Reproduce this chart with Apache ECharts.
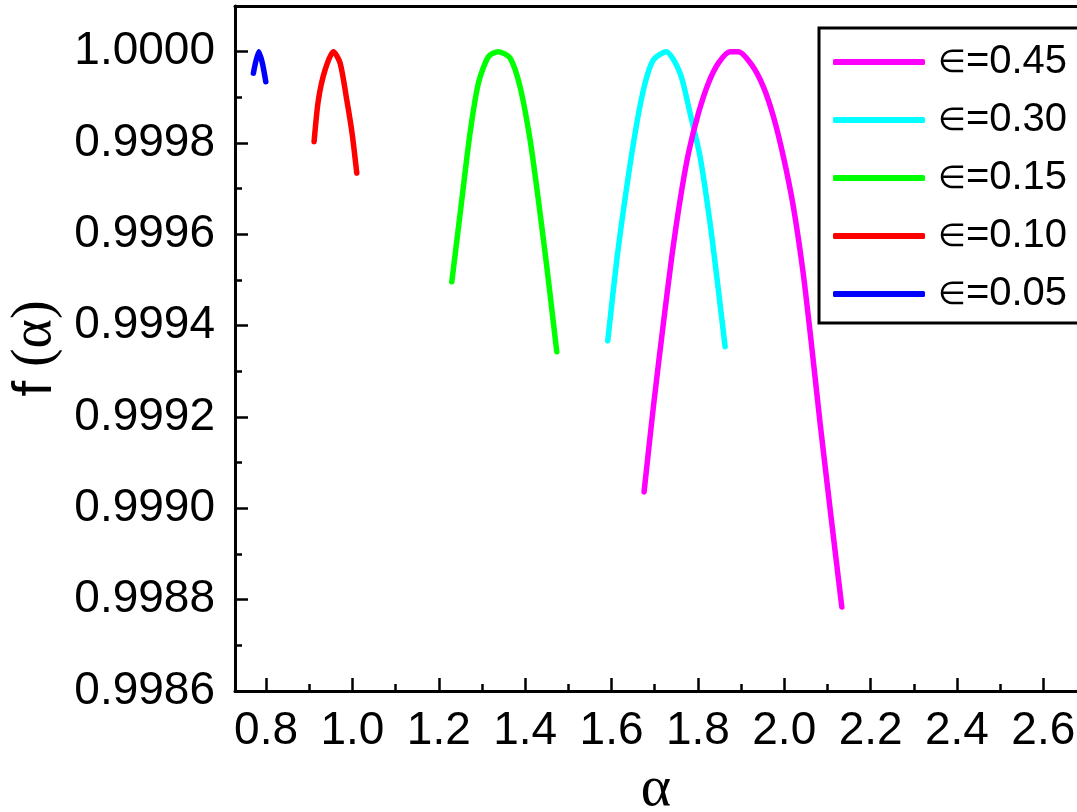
<!DOCTYPE html>
<html>
<head>
<meta charset="utf-8">
<script src="https://cdn.jsdelivr.net/npm/echarts@6/dist/echarts.min.js"></script>
<style>
html,body{margin:0;padding:0;background:#fff;}
#chart{width:1077px;height:812px;}
</style>
</head>
<body>
<div id="chart"></div>
<script>
// ---- data ----
const seriesNames = ['∈=0.45', '∈=0.30', '∈=0.15', '∈=0.10', '∈=0.05'];
const seriesColors = ['#FF00FF', '#00FFFF', '#00FF00', '#FF0000', '#0000FF'];

const alpha045 = [1.6754, 1.6969, 1.7201, 1.7396, 1.7588, 1.7780, 1.8012, 1.8243, 1.8475, 1.8746, 1.8938, 1.9248, 1.9517, 1.9749, 1.9980, 2.0212, 2.0436, 2.0620, 2.0830, 2.1073, 2.1333];
const f045 = [0.999036, 0.999222, 0.999405, 0.999551, 0.999675, 0.999777, 0.999865, 0.999931, 0.999975, 1.0, 1.0, 0.999971, 0.999923, 0.999858, 0.999770, 0.999660, 0.999517, 0.999368, 0.999187, 0.998990, 0.998784];

const alpha030 = [1.5913, 1.6122, 1.6353, 1.6585, 1.6777, 1.6969, 1.7264, 1.7588, 1.7820, 1.8051, 1.8283, 1.8475, 1.8630];
const f030 = [0.999367, 0.999544, 0.999704, 0.999843, 0.999931, 0.999982, 1.0, 0.999953, 0.999865, 0.999770, 0.999624, 0.999478, 0.999354];

const alpha015 = [1.2301, 1.2532, 1.2724, 1.2917, 1.3148, 1.3380, 1.3651, 1.3882, 1.4114, 1.4306, 1.4501, 1.4732];
const f015 = [0.999496, 0.999675, 0.999822, 0.999931, 0.999989, 1.0, 0.999986, 0.999923, 0.999807, 0.999675, 0.999529, 0.999343];

const alpha010 = [0.9112, 0.9211, 0.9366, 0.9559, 0.9714, 0.9869, 0.9992, 1.0100];
const f010 = [0.999803, 0.999894, 0.999960, 1.0, 0.999975, 0.999894, 0.999821, 0.999734];

const alpha005 = [0.7706, 0.7831, 0.7914, 0.7993];
const f005 = [0.999953, 1.0, 0.999975, 0.999934];

const xMajorTicks = [0.8, 1.0, 1.2, 1.4, 1.6, 1.8, 2.0, 2.2, 2.4, 2.6];
const xMinorTicks = [0.9, 1.1, 1.3, 1.5, 1.7, 1.9, 2.1, 2.3, 2.5];
const yMajorTicks = [0.9986, 0.9988, 0.9990, 0.9992, 0.9994, 0.9996, 0.9998, 1.0000];
const yMinorTicks = [0.9987, 0.9989, 0.9991, 0.9993, 0.9995, 0.9997, 0.9999];

// ---- build ----
const alphas = [alpha045, alpha030, alpha015, alpha010, alpha005];
const fs = [f045, f030, f015, f010, f005];
const pair = (xs, ys) => xs.map((x, i) => [x, ys[i]]);

const X_MIN = 0.728, X_MAX = 2.678, Y_MIN = 0.9986, Y_MAX = 1.0001;
const sans = 'Liberation Sans, Arial, sans-serif';
const serif = 'Liberation Serif, Times New Roman, serif';

const chart = echarts.init(document.getElementById('chart'), null, {renderer: 'canvas'});

const option = {
  animation: false,
  backgroundColor: '#fff',
  grid: { left: 235, right: 0, top: 6, bottom: 121, containLabel: false, outerBoundsMode: 'none' },
  xAxis: [
    {
      type: 'value', min: X_MIN, max: X_MAX, position: 'bottom',
      name: 'α', nameLocation: 'middle', nameGap: 70,
      nameTextStyle: { fontFamily: serif, fontSize: 58, color: '#000' },
      axisLine: { show: true, onZero: false, lineStyle: { color: '#000', width: 3 } },
      axisTick: { show: true, inside: true, length: 13, lineStyle: { color: '#000', width: 2.5 }, customValues: xMajorTicks },
      axisLabel: { show: true, margin: 17, fontFamily: sans, fontSize: 46, color: '#000',
        customValues: xMajorTicks, formatter: v => v.toFixed(1) },
      splitLine: { show: false }
    },
    {
      type: 'value', min: X_MIN, max: X_MAX, position: 'bottom',
      axisLine: { show: false, onZero: false },
      axisTick: { show: true, inside: true, length: 7, lineStyle: { color: '#000', width: 2.5 }, customValues: xMinorTicks },
      axisLabel: { show: false },
      splitLine: { show: false }
    },
    {
      type: 'value', min: X_MIN, max: X_MAX, position: 'top',
      axisLine: { show: true, onZero: false, lineStyle: { color: '#000', width: 3 } },
      axisTick: { show: false }, axisLabel: { show: false }, splitLine: { show: false }
    }
  ],
  yAxis: [
    {
      type: 'value', min: Y_MIN, max: Y_MAX, position: 'left',
      name: '{f|f}{p|(α)}', nameLocation: 'middle', nameGap: 162, nameRotate: 90,
      nameTextStyle: {
        color: '#000',
        rich: {
          f: { fontFamily: sans, fontSize: 56, color: '#000' },
          p: { fontFamily: serif, fontSize: 56, color: '#000', padding: [0, 0, 0, 14] }
        }
      },
      axisLine: { show: true, onZero: false, lineStyle: { color: '#000', width: 3 } },
      axisTick: { show: true, inside: true, length: 13, lineStyle: { color: '#000', width: 2.5 }, customValues: yMajorTicks },
      axisLabel: { show: true, margin: 20, fontFamily: sans, fontSize: 46, color: '#000',
        customValues: yMajorTicks, formatter: v => v.toFixed(4) },
      splitLine: { show: false }
    },
    {
      type: 'value', min: Y_MIN, max: Y_MAX, position: 'left',
      axisLine: { show: false, onZero: false },
      axisTick: { show: true, inside: true, length: 7, lineStyle: { color: '#000', width: 2.5 }, customValues: yMinorTicks },
      axisLabel: { show: false },
      splitLine: { show: false }
    }
  ],
  legend: {
    orient: 'vertical', left: 819, top: 28,
    itemWidth: 92, itemHeight: 6, itemGap: 18, icon: 'roundRect',
    borderColor: '#000', borderWidth: 3, borderRadius: 0,
    padding: [14, 26, 9, 14],
    data: seriesNames,
    formatter: name => '{e|∈}{t|' + name.slice(1) + '}',
    textStyle: {
      color: '#000', lineHeight: 40,
      rich: {
        e: { fontFamily: 'DejaVu Sans, sans-serif', fontSize: 32, color: '#000', padding: [4, 0, 0, 8], lineHeight: 40 },
        t: { fontFamily: sans, fontSize: 40, color: '#000', lineHeight: 40 }
      }
    }
  },
  series: seriesNames.map((name, i) => ({
    name: name,
    type: 'line',
    xAxisIndex: 0, yAxisIndex: 0,
    data: pair(alphas[i], fs[i]),
    smooth: 0.25,
    showSymbol: false, symbol: 'none',
    color: seriesColors[i],
    lineStyle: { color: seriesColors[i], width: 5.5, cap: 'round', join: 'round' },
    z: 10 - i
  }))
};
chart.setOption(option);
</script>
</body>
</html>
